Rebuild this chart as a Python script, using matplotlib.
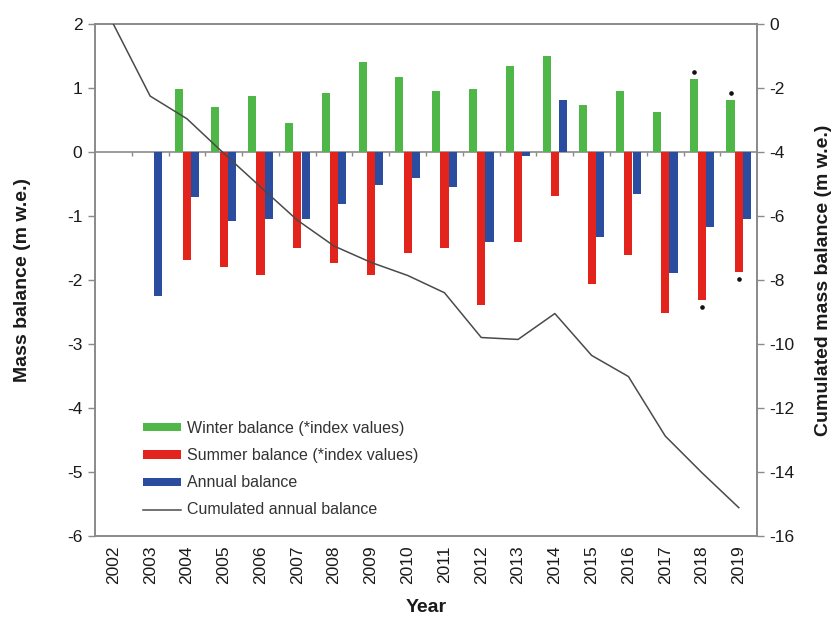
import numpy as np
import matplotlib
matplotlib.use("Agg")
import matplotlib.pyplot as plt
from matplotlib.patches import Patch
from matplotlib.lines import Line2D
from matplotlib.transforms import offset_copy

plt.rcParams["font.family"] = ["Liberation Sans", "DejaVu Sans"]
plt.rcParams["axes.unicode_minus"] = False

# Glacier mass balance series (m w.e.)
years = list(range(2002, 2020))
winter = [np.nan, np.nan, 0.98, 0.71, 0.87, 0.45, 0.93, 1.41, 1.17, 0.96,
          0.99, 1.34, 1.50, 0.74, 0.96, 0.63, 1.14, 0.82]
summer = [np.nan, np.nan, -1.69, -1.79, -1.92, -1.50, -1.74, -1.92, -1.58, -1.50,
          -2.39, -1.40, -0.69, -2.07, -1.61, -2.52, -2.31, -1.87]
annual = [np.nan, -2.25, -0.71, -1.08, -1.05, -1.05, -0.81, -0.51, -0.41, -0.54,
          -1.40, -0.06, 0.81, -1.33, -0.65, -1.89, -1.17, -1.05]
cumulative = [0.0, -2.25, -2.96, -4.04, -5.09, -6.13, -6.94, -7.45, -7.86, -8.40,
              -9.80, -9.86, -9.05, -10.36, -11.02, -12.88, -14.03, -15.12]
index_years = [2018, 2019]   # winter/summer values estimated from index

GREEN = "#4fb748"
RED = "#e3241c"
BLUE = "#2b4d9f"
SPINE = "#8a8a8a"
TEXT = "#1a1a1a"

fig = plt.figure(figsize=(8.33, 6.18), dpi=100)
ax = fig.add_axes([0.114, 0.133, 0.795, 0.828])

x = np.arange(len(years))
w = 0.22
step = 0.225
ax.bar(x - step, winter, w, color=GREEN, zorder=2)
ax.bar(x, summer, w, color=RED, zorder=2)
ax.bar(x + step, annual, w, color=BLUE, zorder=2)

# markers flagging index-based values
idx = [years.index(y) for y in index_years]
up = offset_copy(ax.transData, fig=fig, x=0, y=5, units="points")
down = offset_copy(ax.transData, fig=fig, x=0, y=-5, units="points")
ax.plot(x[idx] - step, np.array(winter)[idx], "o", ms=2.3, color="#111",
        transform=up, zorder=3)
ax.plot(x[idx], np.array(summer)[idx], "o", ms=2.3, color="#111",
        transform=down, zorder=3)

ymin, ymax = -6, 2
ax.set_xlim(-0.5, len(years) - 0.5)
ax.set_ylim(ymin, ymax)
ax.set_yticks(np.arange(ymin, ymax + 1, 1))
ax.set_xticks(x)
ax.set_xticklabels([str(y) for y in years], rotation=90)
ax.tick_params(axis="x", length=0, pad=7, labelsize=12.5, colors=TEXT)
ax.tick_params(axis="y", direction="out", length=5, width=1, color=SPINE,
               labelsize=12.5, labelcolor=TEXT, pad=4)
for s in ax.spines.values():
    s.set_color(SPINE)
    s.set_linewidth(1.2)

# zero line with category separators
zero_loc = (0 - ymin) / (ymax - ymin)
sec = ax.secondary_xaxis(zero_loc)
sec.set_alignment("bottom")
sec.set_xticks(np.arange(0.5, len(years) - 0.5, 1))
sec.tick_params(axis="x", direction="out", length=3, width=1, color=SPINE,
                labelbottom=False, labeltop=False)
for s in sec.spines.values():
    s.set_color(SPINE)
    s.set_linewidth(1.2)

ax.set_ylabel("Mass balance (m w.e.)", fontsize=14, fontweight="bold", color=TEXT)
ax.yaxis.set_label_coords(-0.097, 0.5)
ax.set_xlabel("Year", fontsize=14, fontweight="bold", color=TEXT)
ax.xaxis.set_label_coords(0.5, -0.124)

# cumulated balance on secondary axis
ax2 = ax.twinx()
ax2.plot(x, cumulative, color="#4a4a4a", lw=1.1, zorder=4)
ax2.set_ylim(-16, 0)
ax2.set_yticks(np.arange(-16, 1, 2))
ax2.tick_params(axis="y", direction="out", length=5, width=1, color=SPINE,
                labelsize=12.5, labelcolor=TEXT, pad=4)
for s in ax2.spines.values():
    s.set_color(SPINE)
    s.set_linewidth(1.2)
ax2.set_ylabel("Cumulated mass balance (m w.e.)", fontsize=14,
               fontweight="bold", color=TEXT)
ax2.yaxis.set_label_coords(1.088, 0.5)

handles = [
    Patch(facecolor=GREEN, edgecolor="none"),
    Patch(facecolor=RED, edgecolor="none"),
    Patch(facecolor=BLUE, edgecolor="none"),
    Line2D([], [], color="#4a4a4a", lw=1.1),
]
labels = ["Winter balance (*index values)", "Summer balance (*index values)",
          "Annual balance", "Cumulated annual balance"]
leg = ax.legend(handles, labels, loc="center left", bbox_to_anchor=(0.0725, 0.13),
                frameon=False, fontsize=11.5, handlelength=2.4, handleheight=0.4,
                handletextpad=0.35, labelspacing=0.76, borderpad=0,
                borderaxespad=0)
for t in leg.get_texts():
    t.set_color("#333333")

fig.savefig("out.png", dpi=100)
